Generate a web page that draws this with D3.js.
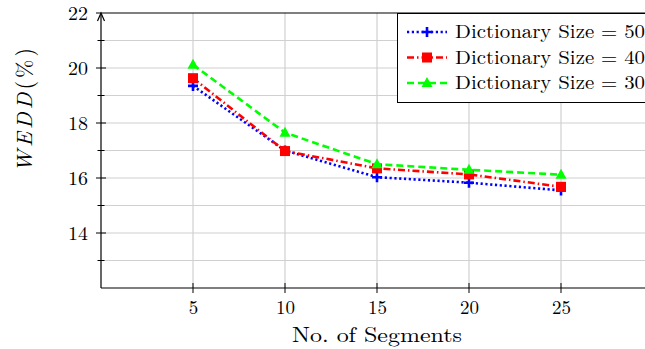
<!DOCTYPE html>
<html><head><meta charset="utf-8">
<script src="https://cdn.jsdelivr.net/npm/d3@7"></script>
<style>
html,body{margin:0;padding:0;background:#fff;}
svg{display:block;}
text{font-family:"Latin Modern Roman","CMU Serif","Liberation Serif","Times New Roman",serif;fill:#000;}
</style></head>
<body><svg id="c" width="645" height="349"></svg>
<script>
const segments = [5, 10, 15, 20, 25];
const dict50 = [19.35, 17.0, 16.03, 15.83, 15.55];
const dict40 = [19.63, 16.98, 16.35, 16.13, 15.68];
const dict30 = [20.12, 17.65, 16.5, 16.3, 16.12];
const seriesNames = ["Dictionary Size = 50", "Dictionary Size = 40", "Dictionary Size = 30"];
const yTickLabels = [14, 16, 18, 20, 22];
const xTickLabels = [5, 10, 15, 20, 25];

const FONT = '"Latin Modern Roman","CMU Serif","Liberation Serif",serif';
const svg = d3.select("#c");
const L = 101, R = 653, T = 13, B = 288;
const x = d3.scaleLinear().domain([0, 30]).range([L, R]);
const y = d3.scaleLinear().domain([12, 22]).range([B, T]);

// grid
const g = svg.append("g");
g.selectAll(".vg").data(xTickLabels).join("line")
  .attr("x1", d => x(d)).attr("x2", d => x(d)).attr("y1", B).attr("y2", T)
  .attr("stroke", "#d0d0d0").attr("stroke-width", 1.2);
g.selectAll(".hg").data(d3.range(13, 22)).join("line")
  .attr("x1", L).attr("x2", 645).attr("y1", d => y(d)).attr("y2", d => y(d))
  .attr("stroke", "#d0d0d0").attr("stroke-width", 1.2);

// axes
const ax = svg.append("g").attr("stroke", "#000").attr("stroke-width", 1.2);
ax.append("line").attr("x1", L).attr("x2", 645).attr("y1", B).attr("y2", B);
ax.append("line").attr("x1", L).attr("x2", L).attr("y1", B).attr("y2", T + 2);
ax.append("line").attr("x1", 96).attr("x2", 645).attr("y1", T).attr("y2", T);
svg.append("path").attr("d", `M${L-3.5},${T+8} L${L},${T} L${L+3.5},${T+8}`)
  .attr("fill", "none").attr("stroke", "#000").attr("stroke-width", 1.2);

// y ticks
const yAxis = d3.axisLeft(y).tickValues(yTickLabels).tickSize(0).tickPadding(13);
const yg = svg.append("g").attr("transform", `translate(${L},0)`).call(yAxis);
yg.select(".domain").remove();
yg.selectAll("text").attr("font-size", 19).attr("textLength", 20).attr("lengthAdjust", "spacingAndGlyphs")
  .style("font-family", FONT);
svg.selectAll(".ytm").data(d3.range(13, 22)).join("line")
  .attr("x1", d => d % 2 === 0 ? L - 5 : L - 3.5).attr("x2", d => d % 2 === 0 ? L + 5 : L + 3.5)
  .attr("y1", d => y(d)).attr("y2", d => y(d)).attr("stroke", "#000").attr("stroke-width", 1);

// x ticks
const xAxis = d3.axisBottom(x).tickValues(xTickLabels).tickSize(0).tickPadding(13);
const xg = svg.append("g").attr("transform", `translate(0,${B})`).call(xAxis);
xg.select(".domain").remove();
xg.selectAll("text").attr("font-size", 19).style("font-family", FONT);
svg.selectAll(".xtm").data(xTickLabels).join("line")
  .attr("x1", d => x(d)).attr("x2", d => x(d)).attr("y1", B - 5).attr("y2", B + 5)
  .attr("stroke", "#000").attr("stroke-width", 1);

// labels
svg.append("text").attr("x", x(15)).attr("y", 342).attr("text-anchor", "middle")
  .attr("font-size", 21).attr("textLength", 170).attr("lengthAdjust", "spacingAndGlyphs")
  .text("No. of Segments");
const yl = svg.append("text").attr("transform", "translate(32,110) rotate(-90)")
  .attr("text-anchor", "middle").attr("font-size", 22)
  .attr("textLength", 124).attr("lengthAdjust", "spacing");
yl.append("tspan").attr("font-style", "italic").text("WEDD");
yl.append("tspan").text("(%)");

// series
const series = [
  {vals: dict50, color: "#0000ff", dash: "2.2,2.6", marker: "plus"},
  {vals: dict40, color: "#ff0000", dash: "7,3,1.5,3", marker: "square"},
  {vals: dict30, color: "#00ff00", dash: "7,4", marker: "tri"}
];
const line = d3.line().x(d => x(d[0])).y(d => y(d[1]));
function marker(sel, type, color) {
  if (type === "plus") {
    sel.append("path").attr("d", "M-5,0H5M0,-5V5").attr("stroke", color).attr("stroke-width", 2.6).attr("fill", "none");
  } else if (type === "square") {
    sel.append("rect").attr("x", -5).attr("y", -5).attr("width", 10).attr("height", 10).attr("fill", color);
  } else {
    sel.append("path").attr("d", "M0,-6L5.5,4L-5.5,4Z").attr("fill", color);
  }
}
series.forEach(s => {
  const pts = segments.map((v, i) => [v, s.vals[i]]);
  svg.append("path").datum(pts).attr("d", line).attr("fill", "none")
    .attr("stroke", s.color).attr("stroke-width", 2.6).attr("stroke-dasharray", s.dash);
  pts.forEach(p => {
    const m = svg.append("g").attr("transform", `translate(${x(p[0])},${y(p[1])})`);
    marker(m, s.marker, s.color);
  });
});

// legend
const lg = svg.append("g");
lg.append("rect").attr("x", 397.5).attr("y", 13.5).attr("width", 260).attr("height", 89)
  .attr("fill", "#fff").attr("stroke", "#000").attr("stroke-width", 1);
const rowsY = [32, 57.5, 83];
series.forEach((s, i) => {
  const ry = rowsY[i];
  lg.append("line").attr("x1", 407).attr("x2", 447).attr("y1", ry).attr("y2", ry)
    .attr("stroke", s.color).attr("stroke-width", 2.6).attr("stroke-dasharray", s.dash);
  const m = lg.append("g").attr("transform", `translate(427,${ry})`);
  marker(m, s.marker, s.color);
  lg.append("text").attr("x", 455).attr("y", ry + 6).attr("font-size", 19)
    .attr("textLength", 190).attr("lengthAdjust", "spacingAndGlyphs").text(seriesNames[i]);
});
</script></body></html>
